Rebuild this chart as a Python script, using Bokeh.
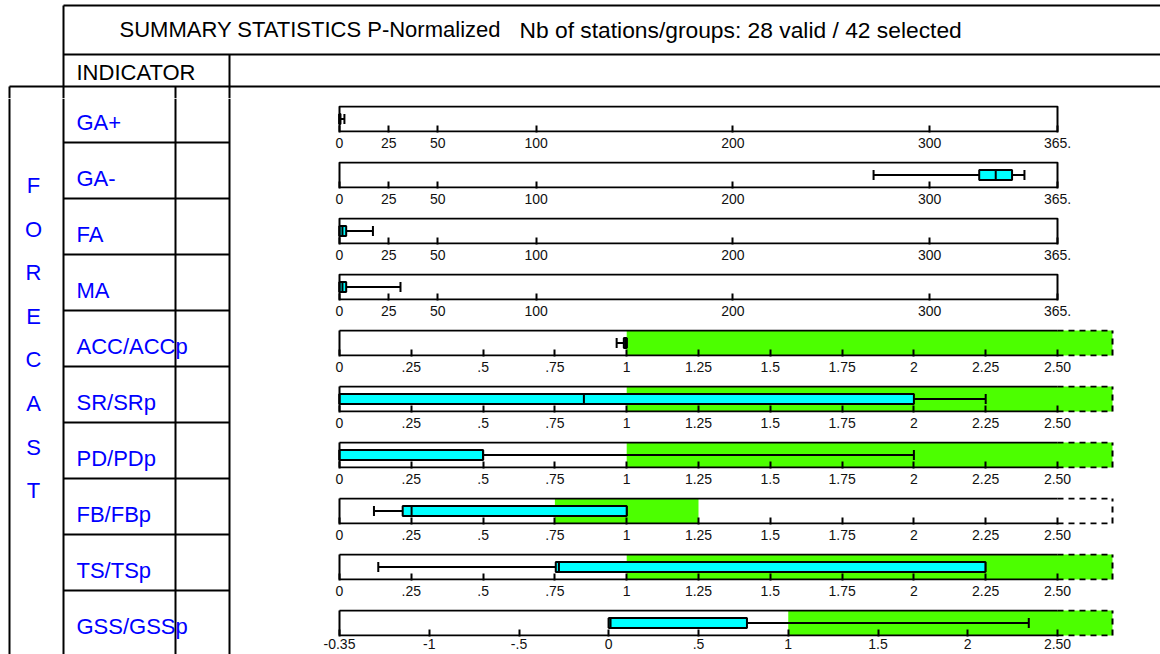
import math
from bokeh.plotting import figure
from bokeh.layouts import column, row
from bokeh.models import Range1d, FixedTicker, ColumnDataSource
from bokeh.embed import file_html
from bokeh.resources import INLINE
from bokeh.core.properties import value

# ---------------- data ----------------
indicators = ["GA+", "GA-", "FA", "MA", "ACC/ACCp", "SR/SRp", "PD/PDp",
              "FB/FBp", "TS/TSp", "GSS/GSSp"]
axis_kind = ["count", "count", "count", "count", "ratio", "ratio", "ratio",
             "ratio", "ratio", "gss"]
whisker_lo = [0.0, 271.5, 0.0, 0.0, 0.965, 0.0, 0.0, 0.12, 0.135, 0.0]
box_lo = [0.0, 325.2, 0.0, 0.0, 0.99, 0.0, 0.0, 0.22, 0.753, 0.0]
median = [0.0, 333.6, 1.5, 1.5, 0.995, 0.851, 0.5, 0.251, 0.764, 0.01]
box_hi = [0.5, 341.9, 3.4, 3.4, 1.0, 2.0, 0.5, 1.0, 2.249, 0.77]
whisker_hi = [2.5, 348.2, 17.0, 31.0, 1.0, 2.25, 2.0, 1.0, 2.249, 2.34]
green_lo = [None, None, None, None, 1.0, 1.0, 1.0, 0.75, 1.0, 1.0]
green_hi = [None, None, None, None, math.inf, math.inf, math.inf, 1.25,
            math.inf, math.inf]

count_ticks = [0, 25, 50, 100, 200, 300, 365]
count_labels = ["0", "25", "50", "100", "200", "300", "365."]
ratio_ticks = [0, 0.25, 0.5, 0.75, 1, 1.25, 1.5, 1.75, 2, 2.25, 2.5]
ratio_labels = ["0", ".25", ".5", ".75", "1", "1.25", "1.5", "1.75", "2",
                "2.25", "2.50"]
gss_ticks = [-1.5, -1, -0.5, 0, 0.5, 1, 1.5, 2, 2.5]
gss_labels = ["-0.35", "-1", "-.5", "0", ".5", "1", "1.5", "2", "2.50"]

axis_def = {
    "count": (0.0, 365.0, count_ticks, count_labels, False),
    "ratio": (0.0, 2.5, ratio_ticks, ratio_labels, True),
    "gss": (-1.5, 2.5, gss_ticks, gss_labels, True),
}

title_left = "SUMMARY STATISTICS P-Normalized"
title_right = "Nb of stations/groups: 28 valid / 42 selected"
header_label = "INDICATOR"
side_label = "FORECAST"

# ---------------- layout constants (screen pixels) ----------------
W, H = 1160, 654
ROW0 = 86            # top of first indicator row
ROW_H = 56
FIG_OFF = 12         # row figure starts this far below its table row top
HEADER_H = ROW0 + FIG_OFF
LEFT_W = 232
ROW_W = W - LEFT_W
AXIS_PX = 718        # pixels for the nominal axis span
EXT_PX = 55          # dashed overflow region
PAD_PX = 2
BORDER_L = 337 - LEFT_W
BORDER_R = ROW_W - BORDER_L - (AXIS_PX + EXT_PX + 2 * PAD_PX)
BORDER_T = 7
PLOT_H = 27
YPAD = 1.0 / 25.0

FONT = "Liberation Sans"
BLUE = "#0000FF"
CYAN = "#00FFFF"
GREEN = "#4CFF00"
LW = 2


def base_fig(w, h, xr, yr, **kw):
    p = figure(width=w, height=h, x_range=xr, y_range=yr,
               output_backend="svg", toolbar_location=None,
               min_border=0, **kw)
    p.outline_line_color = None
    p.grid.visible = False
    p.background_fill_color = "white"
    p.border_fill_color = "white"
    return p


# ---------------- header ----------------
hdr = base_fig(W, HEADER_H, Range1d(0, W), Range1d(HEADER_H, 0))
hdr.axis.visible = False
hx0 = [63, 63, 63, 229, 9, 9, 175]
hy0 = [5, 5, 54, 54, ROW0, ROW0, ROW0]
hx1 = [W, 63, W, 229, W, 9, 175]
hy1 = [5, HEADER_H, 54, HEADER_H, ROW0, HEADER_H, HEADER_H]
hdr.segment(hx0, hy0, hx1, hy1, line_color="black", line_width=LW)
hdr.text(x=[119], y=[29], text=[title_left],
         text_font=value(FONT), text_font_size="22px", text_color="black",
         text_baseline="middle", text_align="left")
hdr.text(x=[519], y=[29], text=[title_right],
         text_font=value(FONT), text_font_size="22.8px", text_color="black",
         text_baseline="middle", text_align="left")
hdr.text(x=[76], y=[72], text=[header_label], text_font=value(FONT),
         text_font_size="22px", text_color="black",
         text_baseline="middle", text_align="left")

# ---------------- left table ----------------
LH = H - HEADER_H
left = base_fig(LEFT_W, LH, Range1d(0, LEFT_W), Range1d(LH, 0))
left.axis.visible = False
vx = [9, 63, 175, 229]
left.segment(vx, [0] * 4, vx, [LH] * 4, line_color="black", line_width=LW)
row_tops = [ROW0 + ROW_H * i - HEADER_H for i in range(len(indicators))]
left.segment([63] * (len(row_tops) - 1), row_tops[1:],
             [229] * (len(row_tops) - 1), row_tops[1:],
             line_color="black", line_width=LW)
left.text(x=[76] * len(indicators), y=[t + 36 for t in row_tops],
          text=indicators, text_font=value(FONT), text_font_size="22px",
          text_color=BLUE, text_baseline="middle", text_align="left")
letters = list(side_label)
left.text(x=[33] * len(letters),
          y=[185 - HEADER_H + 43.6 * k for k in range(len(letters))],
          text=letters, text_font=value(FONT), text_font_size="22px",
          text_color=BLUE, text_baseline="middle", text_align="center")

# ---------------- rows ----------------
row_figs = []
n = len(indicators)
for i, name in enumerate(indicators):
    h = ROW_H if i < n - 1 else LH - ROW_H * (n - 1)
    xmin, xmax, ticks, labels, overflow = axis_def[axis_kind[i]]
    u = (xmax - xmin) / AXIS_PX
    xend = xmin + (AXIS_PX + EXT_PX) * u
    p = base_fig(ROW_W, h,
                 Range1d(xmin - PAD_PX * u, xend + PAD_PX * u),
                 Range1d(-YPAD, 1 + YPAD),
                 min_border_left=BORDER_L, min_border_right=BORDER_R,
                 min_border_top=BORDER_T,
                 min_border_bottom=h - BORDER_T - PLOT_H)
    p.yaxis.visible = False
    ax = p.xaxis[0]
    ax.ticker = FixedTicker(ticks=ticks, minor_ticks=[])
    ax.major_label_overrides = {float(t): l for t, l in zip(ticks, labels)}
    ax.axis_line_color = None
    ax.major_tick_in = 7
    ax.major_tick_out = 0
    ax.major_tick_line_width = 2
    ax.major_tick_line_color = "black"
    ax.minor_tick_line_color = None
    ax.major_label_standoff = 5 if i < n - 1 else 2
    ax.major_label_text_font = FONT
    ax.major_label_text_font_size = "14px"
    ax.major_label_text_color = "#111111"

    right_lim = xend if overflow else xmax
    if green_lo[i] is not None:
        p.quad(left=[green_lo[i]], right=[min(green_hi[i], right_lim)],
               bottom=[0], top=[1], fill_color=GREEN, line_color=None)

    src = ColumnDataSource(dict(wlo=[whisker_lo[i]], q1=[box_lo[i]],
                                med=[median[i]], q3=[box_hi[i]],
                                whi=[whisker_hi[i]]))
    p.segment(x0="wlo", y0=0.5, x1="q1", y1=0.5, source=src,
              line_color="black", line_width=LW)
    p.segment(x0="q3", y0=0.5, x1="whi", y1=0.5, source=src,
              line_color="black", line_width=LW)
    p.segment(x0="wlo", y0=0.3, x1="wlo", y1=0.7, source=src,
              line_color="black", line_width=LW)
    p.segment(x0="whi", y0=0.3, x1="whi", y1=0.7, source=src,
              line_color="black", line_width=LW)
    p.quad(left="q1", right="q3", bottom=0.3, top=0.7, source=src,
           fill_color=CYAN, line_color="black", line_width=LW)
    p.segment(x0="med", y0=0.3, x1="med", y1=0.7, source=src,
              line_color="black", line_width=LW)

    # frame
    if overflow:
        p.segment([xmin, xmin, xmin], [0, 1, 0], [xmax, xmax, xmin], [0, 1, 1],
                  line_color="black", line_width=LW)
        p.segment([xmax, xmax, xend], [0, 1, 0], [xend, xend, xend], [0, 1, 1],
                  line_color="black", line_width=LW, line_dash="6 5")
    else:
        p.quad(left=[xmin], right=[xmax], bottom=[0], top=[1],
               fill_color=None, line_color="black", line_width=LW)
    row_figs.append(p)

layout = column(hdr, row(left, column(*row_figs, spacing=0), spacing=0),
                spacing=0)
open("out.html", "w").write(file_html(layout, INLINE))
